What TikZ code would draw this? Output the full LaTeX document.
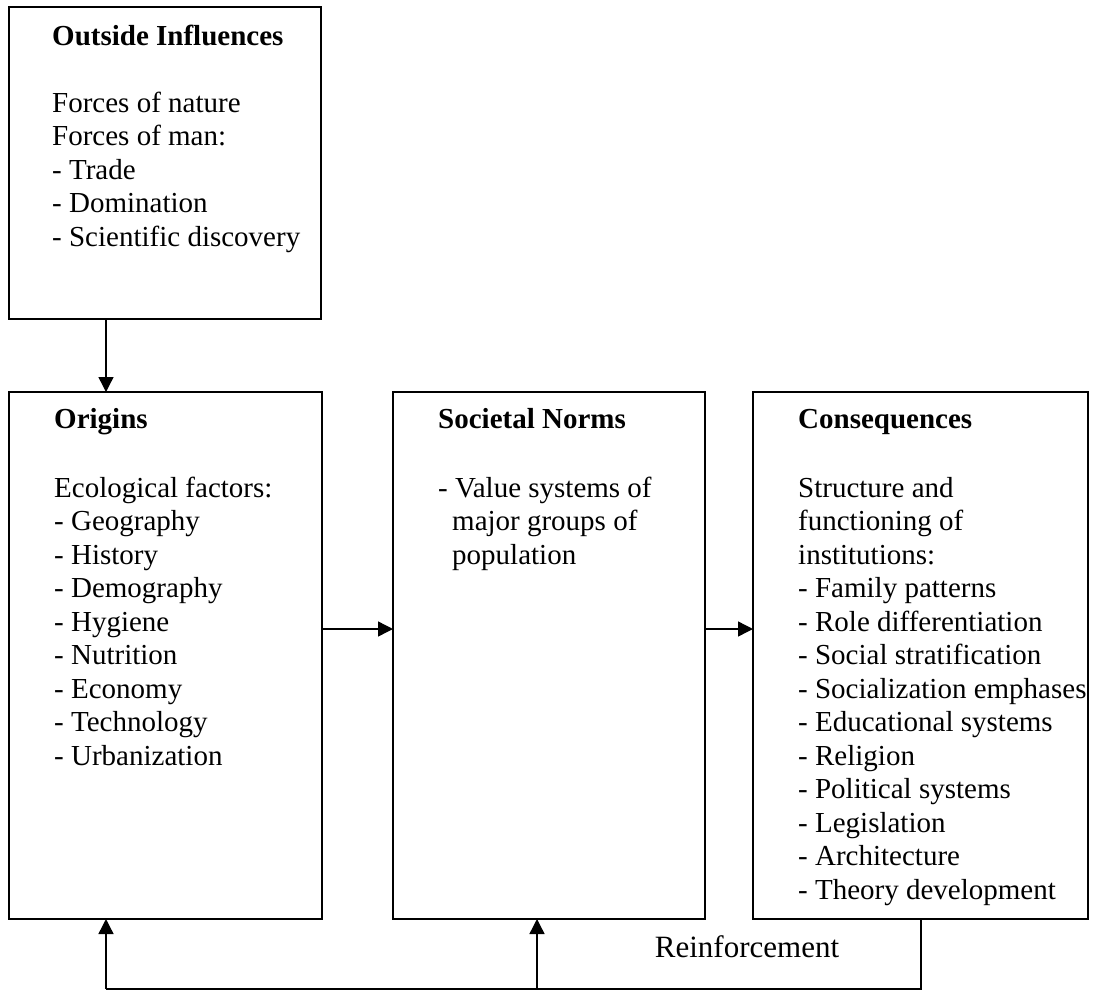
\documentclass[tikz,border=0pt]{standalone}
\usepackage{fontspec}
\setmainfont{Liberation Serif}
\usetikzlibrary{arrows.meta}
\tikzset{
  box/.style={draw=black, line width=1.8pt, inner sep=0pt, outer sep=0pt, anchor=north west},
  arr/.style={line width=1.4pt, -{Triangle[width=15pt,length=15pt]}},
  conn/.style={line width=1.4pt},
  ttl/.style={anchor=base west, inner sep=0pt, font=\fontsize{29}{33.5}\selectfont\bfseries},
  body/.style={anchor=base west, inner sep=0pt, font=\fontsize{29}{33.5}\selectfont},
}
\newcommand{\blines}[1]{\parbox[t]{330pt}{\fontsize{29}{33.5}\selectfont\raggedright #1}}
\begin{document}
\begin{tikzpicture}[x=1pt,y=-1pt]
\useasboundingbox (0,0) rectangle (1093,991);
% boxes
\node[box, minimum width=312pt, minimum height=312pt] (outside) at (9,7) {};
\node[box, minimum width=313pt, minimum height=527pt] (origins) at (9,392) {};
\node[box, minimum width=312pt, minimum height=527pt] (norms) at (393,392) {};
\node[box, minimum width=335pt, minimum height=527pt] (cons) at (753,392) {};
% texts
\node[ttl] (t1) at (52,45) {Outside Influences};
\node[body] (b1) at (52,112) {\blines{Forces of nature\\Forces of man:\\- Trade\\- Domination\\- Scientific discovery}};
\node[ttl] (t2) at (54,428) {Origins};
\node[body] (b2) at (54,497) {\blines{Ecological factors:\\- Geography\\- History\\- Demography\\- Hygiene\\- Nutrition\\- Economy\\- Technology\\- Urbanization}};
\node[ttl] (t3) at (438,428) {Societal Norms};
\node[body] (b3) at (438,497) {\blines{- Value systems of\\\hspace*{14pt}major groups of\\\hspace*{14pt}population}};
\node[ttl] (t4) at (798,428) {Consequences};
\node[body] (b4) at (798,497) {\blines{Structure and\\functioning of\\institutions:\\- Family patterns\\- Role differentiation\\- Social stratification\\- Socialization emphases\\- Educational systems\\- Religion\\- Political systems\\- Legislation\\- Architecture\\- Theory development}};
\node[anchor=base, inner sep=0pt, font=\fontsize{31}{36}\selectfont] (reinf) at (747,957) {Reinforcement};
% connectors
\coordinate (fr) at (921,989);
\coordinate (fm) at (537,989);
\coordinate (fl) at (106,989);
\draw[arr] (outside.south -| fl) -- (origins.north -| fl);
\coordinate (hy) at (0,629);
\draw[arr] (origins.east |- hy) -- (norms.west |- hy);
\draw[arr] (norms.east |- hy) -- (cons.west |- hy);
\draw[conn] (cons.south -| fr) -- (fr) -- (fl);
\draw[arr] (fl) -- (origins.south -| fl);
\draw[arr] (fm) -- (norms.south -| fm);
\end{tikzpicture}
\end{document}
